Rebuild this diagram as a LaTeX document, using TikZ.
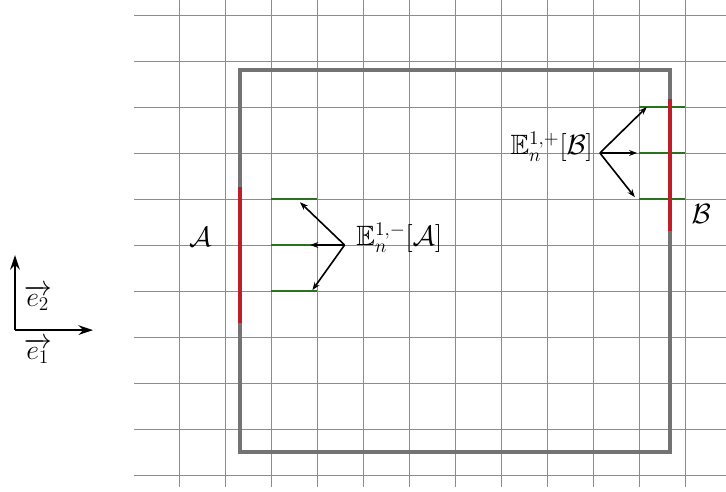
\documentclass[tikz,border=0pt]{standalone}
\usepackage{amssymb}
\usetikzlibrary{arrows.meta}
\definecolor{gridgray}{RGB}{140,140,140}
\definecolor{framegray}{RGB}{115,115,115}
\definecolor{bndred}{RGB}{190,30,40}
\definecolor{fluxgreen}{RGB}{40,115,30}
\begin{document}
\begin{tikzpicture}[x=1cm,y=1cm,
  gridline/.style={gridgray, line width=0.6pt},
  frame/.style={framegray, line width=2.2pt},
  bnd/.style={bndred, line width=2.2pt},
  flux/.style={fluxgreen, line width=1.7pt},
  vec/.style={-{Stealth[length=5pt,width=3.6pt]}, line width=1pt},
  axis/.style={-{Stealth[length=9pt,width=6pt]}, line width=1.2pt},
  lbl/.style={font=\LARGE, inner sep=0pt}]
\useasboundingbox (-3.891,-0.348) rectangle (11.891,10.326);
% grid
\draw[gridline] (-0.97,-0.25) grid (11.9,10.33);
% domain frame
\draw[frame] (1.326,0.5) rectangle (10.674,8.804);
% green faces
\coordinate (a1l) at (2,6); \coordinate (a1r) at (3,6);
\coordinate (a2l) at (2,5); \coordinate (a2r) at (3,5);
\coordinate (a3l) at (2,4); \coordinate (a3r) at (3,4);
\coordinate (b1l) at (10,8); \coordinate (b1r) at (11,8);
\coordinate (b2l) at (10,7); \coordinate (b2r) at (11,7);
\coordinate (b3l) at (10,6); \coordinate (b3r) at (11,6);
\draw[flux] (a1l) -- (a1r);
\draw[flux] (a2l) -- (a2r);
\draw[flux] (a3l) -- (a3r);
\draw[flux] (b1l) -- (b1r);
\draw[flux] (b2l) -- (b2r);
\draw[flux] (b3l) -- (b3r);
% boundary parts
\draw[bnd] (1.326,3.30) -- (1.326,6.26);
\draw[bnd] (10.674,5.30) -- (10.674,8.17);
% labels
\node[lbl, anchor=base] (labA) at (0.46,4.96) {$\mathcal{A}$};
\node[lbl, anchor=base] (labB) at (11.35,5.46) {$\mathcal{B}$};
\node[lbl, anchor=base west] (EA) at (3.85,4.98) {$\mathbb{E}_n^{1,-}[\mathcal{A}]$};
\node[lbl, anchor=base east] (EB) at (9.0,6.96) {$\mathbb{E}_n^{1,+}[\mathcal{B}]$};
% arrows
\coordinate (sA) at (3.6,5);
\coordinate (tA1) at (2.63,5.93);
\coordinate (tA2) at (2.85,5);
\coordinate (tA3) at (2.9,4.02);
\draw[vec] (sA) -- (tA1);
\draw[vec] (sA) -- (tA2);
\draw[vec] (sA) -- (tA3);
\coordinate (sB) at (9.15,7);
\coordinate (tB1) at (10.17,8);
\coordinate (tB2) at (9.96,7);
\coordinate (tB3) at (9.91,6.04);
\draw[vec] (sB) -- (tB1);
\draw[vec] (sB) -- (tB2);
\draw[vec] (sB) -- (tB3);
% basis
\coordinate (O) at (-3.565,3.15);
\coordinate (e1tip) at (-1.87,3.15);
\coordinate (e2tip) at (-3.565,4.78);
\draw[axis] (O) -- (e1tip);
\draw[axis] (O) -- (e2tip);
\node[lbl, anchor=base] (e1) at (-3.07,2.52) {$\overrightarrow{e_1}$};
\node[lbl, anchor=base] (e2) at (-3.07,3.67) {$\overrightarrow{e_2}$};
\end{tikzpicture}
\end{document}
